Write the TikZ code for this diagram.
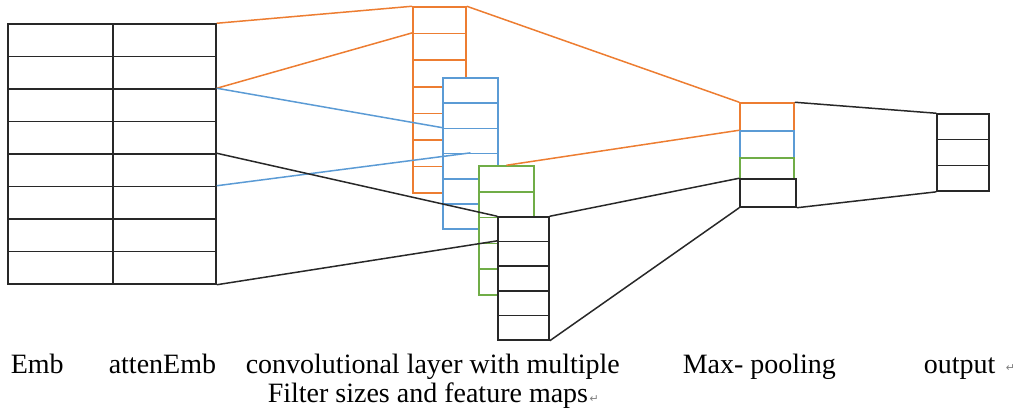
\documentclass[tikz,border=0pt]{standalone}
\usepackage{fontspec}
\setmainfont{Liberation Serif}
\newfontfamily\markfont{DejaVu Sans}
\definecolor{convorange}{RGB}{237,125,49}
\definecolor{convblue}{RGB}{91,155,213}
\definecolor{convgreen}{RGB}{112,173,71}
\definecolor{convblack}{RGB}{40,40,40}

\begin{document}
\begin{tikzpicture}[x=1pt, y=-1pt, line width=1.5pt]
\tikzstyle{cell}=[draw, rectangle, inner sep=0pt, line width=1.5pt];
\tikzstyle{label}=[inner sep=0pt, anchor=base west, font=\fontsize{28}{32}\selectfont];
\tikzstyle{retmark}=[inner sep=0pt, anchor=base west, text=gray, font=\markfont\fontsize{11}{12}\selectfont];
\useasboundingbox (0,0) rectangle (1013,417);

% embedding matrix
\foreach \i in {1,...,8} {
  \node [cell, draw=convblack, minimum width=105pt, minimum height=32.5pt] (emb\i) at (60.5, 24+32.5*\i-16.25) {};
  \node [cell, draw=convblack, minimum width=103pt, minimum height=32.5pt] (att\i) at (164.5, 24+32.5*\i-16.25) {};
}

% feature maps, each column hides the one behind it
\fill [white] (413,7) rectangle (466,193);
\foreach \i in {1,...,7}
  \node [cell, draw=convorange, minimum width=53pt, minimum height=26.6pt] (or\i) at (439.5, 7+26.6*\i-13.3) {};
\fill [white] (443,78) rectangle (498,229);
\foreach \i in {1,...,6}
  \node [cell, draw=convblue, minimum width=55pt, minimum height=25.2pt] (bl\i) at (470.5, 78+25.2*\i-12.6) {};
\fill [white] (479,166) rectangle (534,295);
\foreach \i in {1,...,5}
  \node [cell, draw=convgreen, minimum width=55pt, minimum height=25.8pt] (gr\i) at (506.5, 166+25.8*\i-12.9) {};
\fill [white] (498,217) rectangle (549,340);
\foreach \i in {1,...,5}
  \node [cell, draw=convblack, minimum width=51pt, minimum height=24.6pt] (fm\i) at (523.5, 217+24.6*\i-12.3) {};

% max-pooling
\node [cell, draw=convorange, minimum width=54pt, minimum height=28pt] (mp1) at (767, 117) {};
\node [cell, draw=convblue, minimum width=54pt, minimum height=27pt] (mp2) at (767, 144.5) {};
\node [cell, draw=convgreen, minimum width=54pt, minimum height=21pt] (mp3) at (767, 168.5) {};
\node [cell, draw=convblack, minimum width=56pt, minimum height=28pt] (mp4) at (768, 193) {};

% output
\foreach \i in {1,...,3}
  \node [cell, draw=convblack, minimum width=52pt, minimum height=25.7pt] (out\i) at (963, 114+25.7*\i-12.85) {};

\draw [convorange] (att1.north east) -- (or1.north west)
  (att3.north east) -- (or2.north west)
  (or1.north east) -- (mp1.north west)
  (mp2.north west) -- (gr1.north);
\draw [convblue] (att3.north east) -- (bl3.north west)
  (att6.north east) -- (bl4.north);
\draw [convblack] (att5.north east) -- (fm1.north west)
  (att8.south east) -- (fm2.north west)
  (fm1.north east) -- (mp4.north west)
  (fm5.south east) -- (mp4.south west)
  (mp1.north east) -- (out1.north west)
  (mp4.south east) -- (out3.south west);

\node [label] (embtext) at (10, 373) {Emb};
\node [label] (atttext) at (108, 373) {attenEmb};
\node [label] (convtext) at (245, 373) {convolutional layer with multiple};
\node [label] (convtext2) at (267, 402) {Filter sizes and feature maps};
\node [retmark] (ret1) at (convtext2.base east) {↵};
\node [label] (pooltext) at (682, 373) {Max- pooling};
\node [label] (outtext) at (923, 373) {output};
\node [retmark] (ret2) at (1005, 371) {↵};
\end{tikzpicture}
\end{document}
